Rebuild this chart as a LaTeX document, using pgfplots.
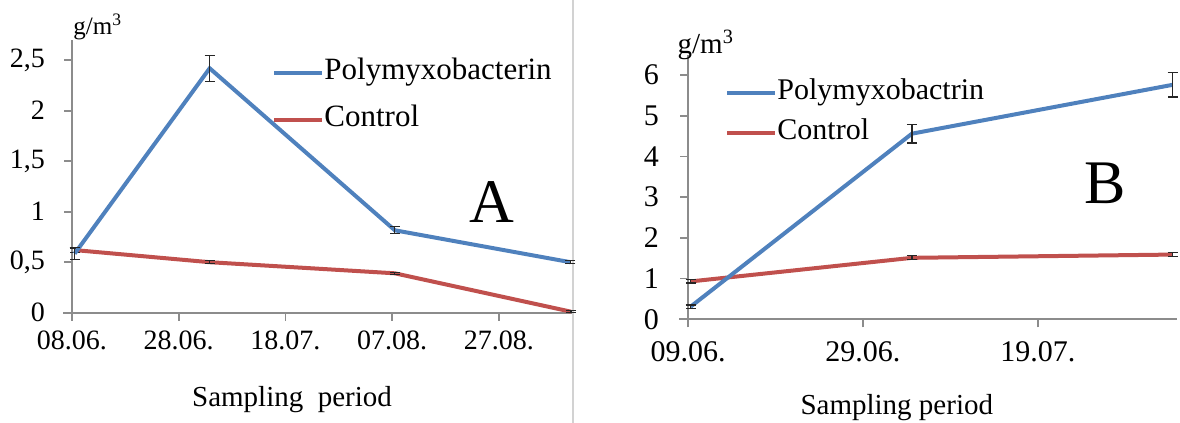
\documentclass[border=0pt]{standalone}
\usepackage{pgfplots}
\pgfplotsset{compat=1.18}
\usepackage{fontspec}
\setmainfont{Liberation Serif}

\definecolor{xlblue}{HTML}{4F81BD}
\definecolor{xlred}{HTML}{C0504D}
\definecolor{axgray}{HTML}{8C8C8C}

% days counted from the first sampling date
\pgfplotstableread{
x    y     e
0.5  0.585 0.06
25.8 2.42  0.13
60.5 0.816 0.035
93.4 0.50  0.015
}\polyA
\pgfplotstableread{
x    y     e
0.5  0.62  0.02
25.8 0.50  0.015
60.5 0.39  0.01
93.5 0.01  0.01
}\ctrlA
\pgfplotstableread{
x    y     e
0.3  0.31  0.04
25.6 4.56  0.23
55.4 5.76  0.30
}\polyB
\pgfplotstableread{
x    y     e
0.3  0.93  0.04
25.6 1.51  0.05
55.4 1.59  0.05
}\ctrlB

\pgfplotsset{
  panel/.style={
    scale only axis,
    axis x line*=bottom, axis y line*=left,
    axis line style={axgray, line width=0.9pt, -},
    x axis line style={shorten <=-4.5pt},
    tick align=outside,
    major tick length=4pt,
    tick style={axgray, line width=0.9pt},
    ymin=0, xmin=0,
    clip=false,
    legend cell align=left,
    legend style={draw=none, fill=none, inner sep=0pt, anchor=west,
      nodes={inner sep=0pt, text height=10pt, text depth=3pt}},
    legend image code/.code={\draw[#1] (0pt,0pt) -- (24pt,0pt);},
    /tikz/every even column/.append style={column sep=1.5pt},
  },
  ebar/.style={error bars/.cd, y dir=both, y explicit,
    error bar style={black!85, line width=0.6pt, solid},
    error mark options={black!85, rotate=90, mark size=2.5pt, line width=0.6pt}},
}

\begin{document}
\begin{tikzpicture}
\useasboundingbox (0,0) rectangle (590pt,211.5pt);
\draw[gray!35, line width=0.8pt] (286.5pt,0pt) -- (286.5pt,211.5pt);

\begin{axis}[panel,
  at={(36pt,55.15pt)}, anchor=south west,
  width=250pt, height=136.35pt,
  xmax=93.7, ymax=2.7,
  xtick={0,20,40,60,80},
  xticklabels={08.06.,28.06.,18.07.,07.08.,27.08.},
  ytick={0,0.5,1,1.5,2,2.5},
  yticklabels={0,{0,5},1,{1,5},2,{2,5}},
  ticklabel style={font=\fontsize{14}{16}\selectfont},
  xticklabel style={yshift=-1.5pt},
  yticklabel style={xshift=-6pt},
  xlabel={Sampling\ \ period},
  xlabel style={font=\fontsize{14.5}{16}\selectfont, at={(axis description cs:0.44,-0.32)}, anchor=center},
  legend style={at={(rel axis cs:0.4,0.793)}, font=\fontsize{15.5}{17}\selectfont, row sep=10.5pt},
]
\addlegendimage{xlblue, line width=2pt}\addlegendentry{Polymyxobacterin}
\addlegendimage{xlred, line width=2pt}\addlegendentry{Control}
\addplot[xlred, line width=2pt, forget plot, ebar] table[x=x, y=y, y error=e] {\ctrlA};
\addplot[xlblue, line width=2pt, forget plot, ebar] table[x=x, y=y, y error=e] {\polyA};
\node[font=\fontsize{31}{31}\selectfont] at (rel axis cs:0.84,0.406) {A};
\node[anchor=west, inner sep=0pt, font=\fontsize{12.5}{14}\selectfont] at (rel axis cs:0.002,1.048) {g/m\textsuperscript{3}};
\end{axis}

\begin{axis}[panel,
  at={(344pt,51.85pt)}, anchor=south west,
  width=244.5pt, height=132.3pt,
  xmax=55.9, ymax=6.5,
  xtick={0,20,40},
  xticklabels={09.06.,29.06.,19.07.},
  ytick={0,1,2,3,4,5,6},
  yticklabels={0,1,2,3,4,5,6},
  ticklabel style={font=\fontsize{15}{17}\selectfont},
  xticklabel style={yshift=-3.5pt},
  yticklabel style={xshift=-7pt},
  xlabel={Sampling period},
  xlabel style={font=\fontsize{14.5}{16}\selectfont, at={(axis description cs:0.427,-0.335)}, anchor=center},
  legend style={at={(rel axis cs:0.0757,0.78)}, font=\fontsize{15}{17}\selectfont, row sep=7pt},
]
\addlegendimage{xlblue, line width=2pt}\addlegendentry{Polymyxobactrin}
\addlegendimage{xlred, line width=2pt}\addlegendentry{Control}
\addplot[xlred, line width=2pt, forget plot, ebar] table[x=x, y=y, y error=e] {\ctrlB};
\addplot[xlblue, line width=2pt, forget plot, ebar] table[x=x, y=y, y error=e] {\polyB};
\node[font=\fontsize{31}{31}\selectfont] at (rel axis cs:0.853,0.515) {B};
\node[anchor=west, inner sep=0pt, font=\fontsize{14.5}{16}\selectfont] at (rel axis cs:-0.022,1.037) {g/m\textsuperscript{3}};
\end{axis}
\end{tikzpicture}
\end{document}
